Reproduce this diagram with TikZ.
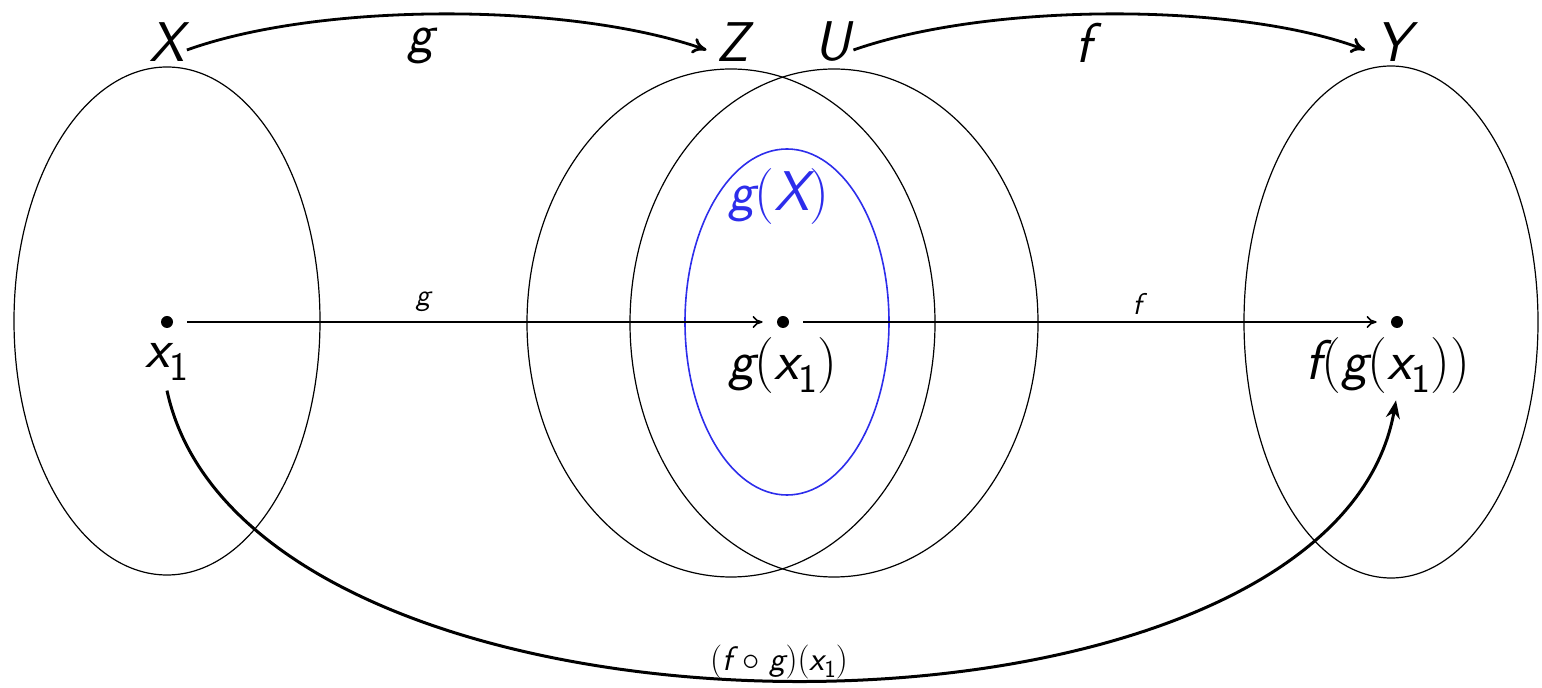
\documentclass[tikz,border=0pt]{standalone}
\usetikzlibrary{arrows.meta}
\definecolor{myblue}{RGB}{45,45,235}
\newcommand\mi[1]{{\sffamily\slshape #1}}
\newcommand\sbs[1]{\raisebox{-0.22em}{\scalebox{0.72}{\sffamily #1}}}
\tikzset{
  setline/.style={line width=0.6pt, draw=black},
  dotnode/.style={circle, fill=black, inner sep=0pt, minimum size=6pt},
  biglbl/.style={inner sep=1pt, font=\fontsize{28}{32}\selectfont},
  smalllbl/.style={inner sep=1pt, font=\fontsize{15}{18}\selectfont},
  midlbl/.style={inner sep=1pt, font=\fontsize{17}{20}\selectfont},
  toparrow/.style={line width=1.4pt, -{To[length=7pt,width=8pt]}},
  horarrow/.style={line width=0.8pt, -{To[length=5pt,width=6pt]}, shorten <=7pt, shorten >=7pt},
  comparrow/.style={line width=1.5pt, -{Stealth[length=9pt,width=7pt]}}
}
\begin{document}
\begin{tikzpicture}[x=0.5pt,y=-0.5pt]
\useasboundingbox (0,0) rectangle (1542,688);
% sets
\draw[setline] (167,321) ellipse [x radius=153, y radius=254];
\draw[setline] (731,323) ellipse [x radius=204, y radius=254];
\draw[setline] (834,323) ellipse [x radius=204, y radius=254];
\draw[setline] (1391,322) ellipse [x radius=147, y radius=256];
\draw[myblue, line width=0.8pt] (787,322) ellipse [x radius=102, y radius=173];
% set names
\node[biglbl] (X) at (167,42) {\mi{X}};
\node[biglbl] (Z) at (733,42) {\mi{Z}};
\node[biglbl] (U) at (833,42) {\mi{U}};
\node[biglbl] (Y) at (1393,42) {\mi{Y}};
\node[biglbl, text=myblue] (gX) at (779,197) {\mi{g}(\mi{X})};
% points
\node[dotnode] (x1) at (167,322) {};
\node[dotnode] (gx1) at (783,322) {};
\node[dotnode] (fgx1) at (1397,322) {};
\node[biglbl] (x1l) at (167,362) {\mi{x}\sbs{1}};
\node[biglbl] (gx1l) at (783,366) {\mi{g}(\mi{x}\sbs{1})};
\node[biglbl] (fgx1l) at (1388,366) {\mi{f}(\mi{g}(\mi{x}\sbs{1}))};
% top maps
\draw[toparrow] ([yshift=-4pt]X.east) .. controls (320,2) and (570,2) .. ([yshift=-4pt,xshift=-4pt]Z.west);
\node[biglbl] (glbl) at (421,46) {\mi{g}};
\draw[toparrow] ([yshift=-4pt]U.east) .. controls (990,2) and (1240,2) .. ([yshift=-4pt,xshift=-4pt]Y.west);
\node[biglbl] (flbl) at (1084,43) {\mi{f}};
% point maps
\draw[horarrow] (x1) -- (gx1);
\node[smalllbl] (gs) at (423,302) {\mi{g}};
\draw[horarrow] (gx1) -- (fgx1);
\node[smalllbl] (fs) at (1137,304) {\mi{f}};
% composition
\draw[comparrow] ([yshift=-4pt]x1l.south) .. controls (250,775) and (1330,775) .. ([xshift=4pt,yshift=-2pt]fgx1l.south);
\node[midlbl] (comp) at (779,662) {(\mi{f} $\circ$ \mi{g})(\mi{x}\sbs{1})};
\end{tikzpicture}
\end{document}
